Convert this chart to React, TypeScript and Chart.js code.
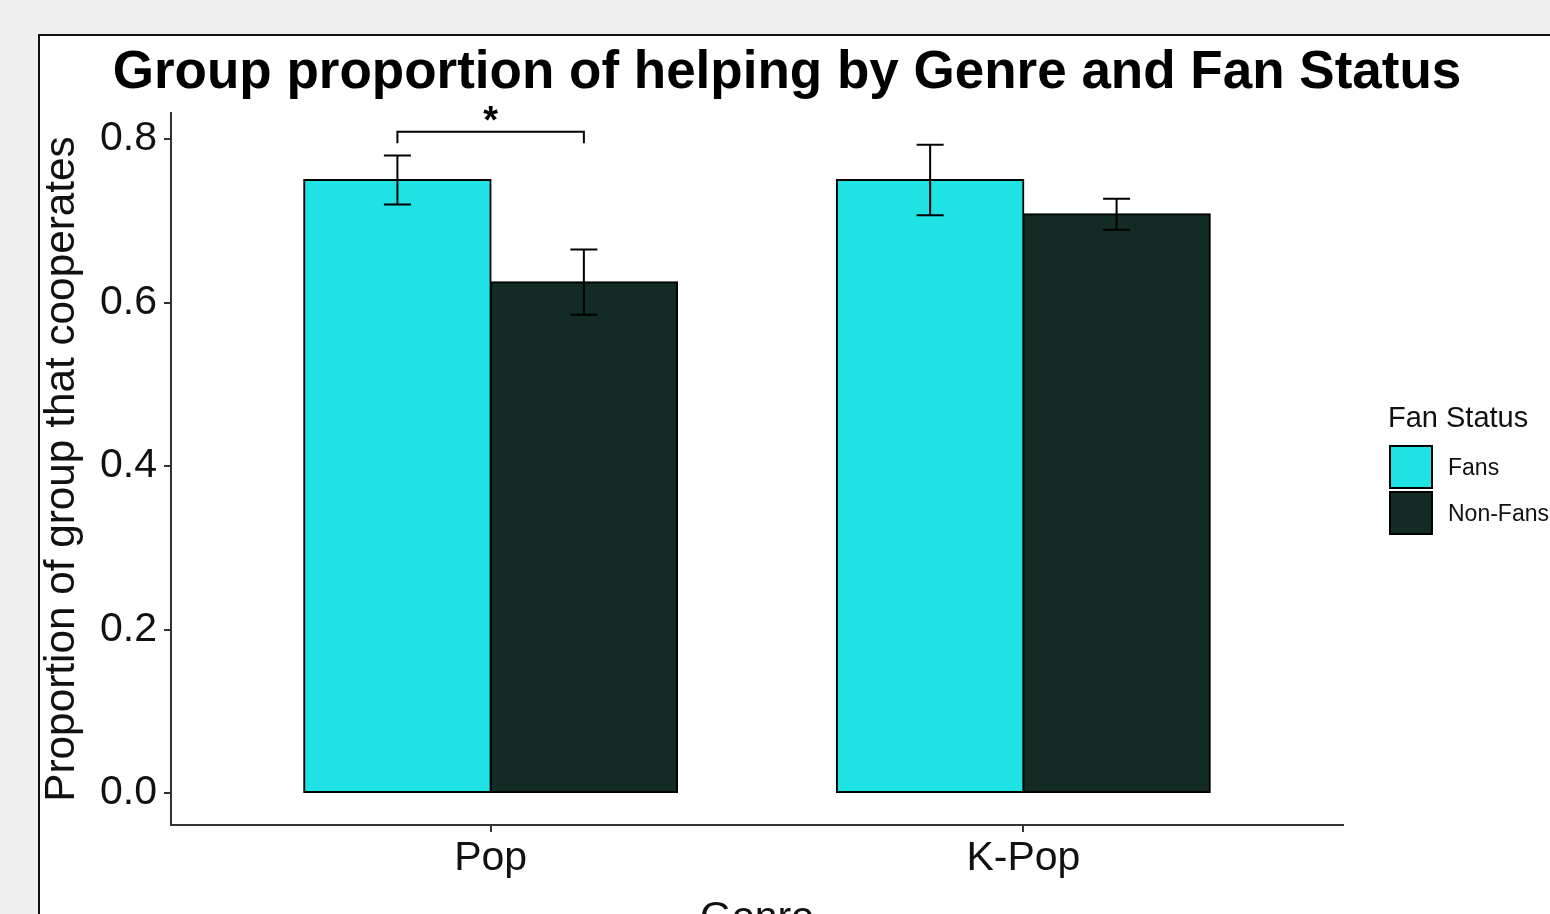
import React, { useEffect, useRef } from "react";
import { Chart, registerables } from "chart.js";

Chart.register(...registerables);

// ---- data ----
const genres = ["Pop", "K-Pop"];
const genrePositions = [1, 2];
const fanStatus = ["Fans", "Non-Fans"];
const fansValues = [0.75, 0.75];
const nonFansValues = [0.625, 0.708];
const fansErrLow = [0.72, 0.707];
const fansErrHigh = [0.78, 0.793];
const nonFansErrLow = [0.585, 0.689];
const nonFansErrHigh = [0.665, 0.727];
const yTickValues = [0, 0.2, 0.4, 0.6, 0.8];
const sigLabel = "*";
const sigGenreIndex = 0;
const sigBracketTop = 0.809;
const sigBracketLeg = 0.795;
const sigStarY = 0.8297;

const titleText = "Group proportion of helping by Genre and Fan Status";
const yTitle = "Proportion of group that cooperates";
const xTitle = "Genre";
const legendTitle = "Fan Status";

const fillColors = ["#1fe2e5", "#122b25"];
const FONT = "'Liberation Sans', Arial, Helvetica, sans-serif";

const overlayPlugin = {
  id: "overlay",
  afterDatasetsDraw(chart: any) {
    const ctx = chart.ctx;
    const y = chart.scales.y;
    const lows = [fansErrLow, nonFansErrLow];
    const highs = [fansErrHigh, nonFansErrHigh];
    ctx.save();
    ctx.strokeStyle = "#000";
    ctx.lineWidth = 2;
    for (let d = 0; d < 2; d++) {
      const meta = chart.getDatasetMeta(d);
      meta.data.forEach((el: any, i: number) => {
        const x = el.x;
        const yl = y.getPixelForValue(lows[d][i]);
        const yh = y.getPixelForValue(highs[d][i]);
        const half = 13.5;
        ctx.beginPath();
        ctx.moveTo(x, yl);
        ctx.lineTo(x, yh);
        ctx.moveTo(x - half, yl);
        ctx.lineTo(x + half, yl);
        ctx.moveTo(x - half, yh);
        ctx.lineTo(x + half, yh);
        ctx.stroke();
      });
    }
    // significance bracket
    const x1 = chart.getDatasetMeta(0).data[sigGenreIndex].x;
    const x2 = chart.getDatasetMeta(1).data[sigGenreIndex].x;
    const yt = y.getPixelForValue(sigBracketTop);
    const yleg = y.getPixelForValue(sigBracketLeg);
    ctx.beginPath();
    ctx.moveTo(x1, yleg);
    ctx.lineTo(x1, yt);
    ctx.lineTo(x2, yt);
    ctx.lineTo(x2, yleg);
    ctx.stroke();
    ctx.fillStyle = "#000";
    ctx.font = `bold 38px ${FONT}`;
    ctx.textAlign = "center";
    ctx.textBaseline = "middle";
    ctx.fillText(sigLabel, (x1 + x2) / 2, y.getPixelForValue(sigStarY) + 8);
    ctx.restore();
  },
  afterDraw(chart: any) {
    const ctx = chart.ctx;
    ctx.save();
    // title
    ctx.fillStyle = "#000";
    ctx.font = `bold 53px ${FONT}`;
    ctx.textAlign = "center";
    ctx.textBaseline = "alphabetic";
    ctx.fillText(titleText, 787, 88);
    // legend
    ctx.textAlign = "left";
    ctx.font = `29px ${FONT}`;
    ctx.fillStyle = "#111";
    ctx.fillText(legendTitle, 1388, 427);
    const keyTops = [445, 491];
    const baselines = [475, 521];
    ctx.font = `23px ${FONT}`;
    fanStatus.forEach((label, i) => {
      ctx.fillStyle = fillColors[i];
      ctx.fillRect(1390, keyTops[i] + 1, 42, 42);
      ctx.strokeStyle = "#000";
      ctx.lineWidth = 2;
      ctx.strokeRect(1390, keyTops[i] + 1, 42, 42);
      ctx.fillStyle = "#111";
      ctx.fillText(label, 1448, baselines[i]);
    });
    ctx.restore();
  },
};

export default function App() {
  const ref = useRef<HTMLCanvasElement | null>(null);
  useEffect(() => {
    if (!ref.current) return;
    const barStyle = {
      borderColor: "#000",
      borderWidth: 2,
      borderSkipped: false,
      inflateAmount: 1,
      categoryPercentage: 0.7,
      barPercentage: 1,
    };
    const chart = new Chart(ref.current, {
      type: "bar",
      data: {
        datasets: [
          {
            label: fanStatus[0],
            data: genrePositions.map((x, i) => ({ x, y: fansValues[i] })),
            backgroundColor: fillColors[0],
            ...barStyle,
          },
          {
            label: fanStatus[1],
            data: genrePositions.map((x, i) => ({ x, y: nonFansValues[i] })),
            backgroundColor: fillColors[1],
            ...barStyle,
          },
        ],
      },
      options: {
        animation: false,
        responsive: false,
        devicePixelRatio: 1,
        layout: { padding: { left: 0, right: 207, top: 113, bottom: 0 } },
        plugins: {
          legend: { display: false },
          tooltip: { enabled: false },
          title: { display: false },
        },
        scales: {
          x: {
            type: "linear",
            min: 0.4,
            max: 2.6,
            offset: false,
            afterBuildTicks: (scale: any) => {
              scale.ticks = genrePositions.map((v) => ({ value: v }));
            },
            afterFit: (scale: any) => {
              scale.height = 135;
            },
            ticks: {
              callback: (v: any) => genres[genrePositions.indexOf(Number(v))] ?? "",
              color: "#111",
              font: { family: FONT, size: 41 },
              padding: 2,
              maxRotation: 0,
              autoSkip: false,
            },
            grid: {
              display: true,
              offset: false,
              drawOnChartArea: false,
              drawTicks: true,
              tickLength: 7,
              color: "#333",
              lineWidth: 2,
            },
            border: { display: true, color: "#333", width: 2 },
            title: {
              display: true,
              text: xTitle,
              color: "#111",
              font: { family: FONT, size: 41 },
              padding: { top: 0, bottom: 16.5 },
            },
          },
          y: {
            type: "linear",
            min: -0.0392,
            max: 0.832,
            afterBuildTicks: (scale: any) => {
              scale.ticks = yTickValues.map((v) => ({ value: v }));
            },
            afterFit: (scale: any) => {
              scale.width = 171;
            },
            ticks: {
              callback: (v: any) => Number(v).toFixed(1),
              color: "#111",
              font: { family: FONT, size: 41 },
              padding: 7,
            },
            grid: {
              display: true,
              drawOnChartArea: false,
              drawTicks: true,
              tickLength: 7,
              color: "#333",
              lineWidth: 2,
            },
            border: { display: true, color: "#333", width: 2 },
            title: {
              display: true,
              text: yTitle,
              color: "#111",
              font: { family: FONT, size: 42.3 },
              padding: { top: 36.6, bottom: 0 },
            },
          },
        },
      },
      plugins: [overlayPlugin],
    });
    return () => chart.destroy();
  }, []);

  return (
    <div style={{ position: "fixed", left: 0, top: 0, width: 1550, height: 914, overflow: "hidden", background: "#efefef" }}>
      <div
        style={{
          position: "absolute",
          left: 38,
          top: 34,
          width: 1600,
          height: 1000,
          background: "#fff",
          borderLeft: "2px solid #111",
          borderTop: "2px solid #111",
        }}
      />
      <canvas ref={ref} width={1550} height={960} style={{ position: "absolute", left: 0, top: 0, width: 1550, height: 960 }} />
    </div>
  );
}
